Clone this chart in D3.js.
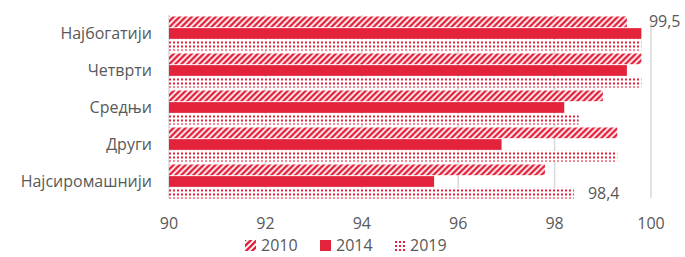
<!DOCTYPE html>
<html>
<head>
<meta charset="utf-8">
<script src="https://cdn.jsdelivr.net/npm/d3@7"></script>
<style>
  body { margin: 0; background: #fff; }
  text { font-family: "Open Sans", sans-serif; fill: #595959; }
</style>
</head>
<body>
<div id="chart"></div>
<script>
// data
const categories = ['Најбогатији', 'Четврти', 'Средњи', 'Други', 'Најсиромашнији'];
const years = ['2010', '2014', '2019'];
const values2010 = [99.5, 99.8, 99.0, 99.3, 97.8];
const values2014 = [99.8, 99.5, 98.2, 96.9, 95.5];
const values2019 = [99.8, 99.8, 98.5, 99.3, 98.4];
const xTicks = [90, 92, 94, 96, 98, 100];
// data labels shown in the chart: [category index, series index]
const labels = [[0, 0], [4, 2]];

const series = [values2010, values2014, values2019];
const width = 685, height = 257;
const red = '#E3223B';

const svg = d3.select('#chart').append('svg')
  .attr('width', width)
  .attr('height', height);

const defs = svg.append('defs');

// wide upward diagonal
const diag = defs.append('pattern')
  .attr('id', 'p2010')
  .attr('patternUnits', 'userSpaceOnUse')
  .attr('width', 6).attr('height', 6);
diag.append('rect').attr('width', 6).attr('height', 6).attr('fill', '#fff');
diag.append('path')
  .attr('d', 'M-1.5,1.5 L1.5,-1.5 M0,6 L6,0 M4.5,7.5 L7.5,4.5')
  .attr('stroke', red).attr('stroke-width', 2.4);

// dotted
const dots = defs.append('pattern')
  .attr('id', 'p2019')
  .attr('patternUnits', 'userSpaceOnUse')
  .attr('width', 4).attr('height', 4);
dots.append('rect').attr('width', 4).attr('height', 4).attr('fill', '#fff');
dots.append('rect').attr('x', 1).attr('y', 1).attr('width', 2).attr('height', 2).attr('fill', red);

const fills = ['url(#p2010)', red, 'url(#p2019)'];

const x = d3.scaleLinear().domain([90, 100]).range([169, 651]);
const y = d3.scaleBand().domain(categories).range([15, 200]).paddingInner(0.08).paddingOuter(0.04);
const ySub = d3.scaleBand().domain(d3.range(3)).range([0, y.bandwidth()]).paddingInner(0.08);

// gridlines
svg.append('g').selectAll('line')
  .data(xTicks)
  .join('line')
  .attr('x1', d => x(d)).attr('x2', d => x(d))
  .attr('y1', d => d === 100 ? 23 : 15).attr('y2', 198)
  .attr('stroke', '#D9D9D9')
  .attr('stroke-width', 1.5);

// tick labels
svg.append('g').selectAll('text')
  .data(xTicks)
  .join('text')
  .attr('x', d => x(d))
  .attr('y', 229)
  .attr('text-anchor', 'middle')
  .style('font-size', '16px')
  .text(d => d);

// category labels
svg.append('g').selectAll('text')
  .data(categories)
  .join('text')
  .attr('x', 152)
  .attr('y', d => y(d) + y.bandwidth() / 2 + 5)
  .attr('text-anchor', 'end')
  .style('font-size', '16px')
  .text(d => d);

// bars
const groups = svg.append('g').selectAll('g')
  .data(categories)
  .join('g')
  .attr('transform', d => `translate(0,${y(d)})`);

groups.selectAll('rect')
  .data((d, i) => series.map((s, j) => ({ s: j, v: s[i] })))
  .join('rect')
  .attr('x', x(90))
  .attr('y', d => ySub(d.s))
  .attr('width', d => x(d.v) - x(90))
  .attr('height', ySub.bandwidth())
  .attr('fill', d => fills[d.s]);

// data labels
const fmt = d3.format('.1f');
const labelDx = [22, 14];
svg.append('g').selectAll('text')
  .data(labels)
  .join('text')
  .attr('x', (d, i) => x(series[d[1]][d[0]]) + labelDx[i])
  .attr('y', (d, i) => i === 0 ? 27 : y(categories[d[0]]) + ySub(d[1]) + ySub.bandwidth() / 2 + 6)
  .style('font-size', '16px')
  .text(d => fmt(series[d[1]][d[0]]).replace('.', ','));

// legend
const legendX = [245, 320, 394];
const legend = svg.append('g').selectAll('g')
  .data(years)
  .join('g')
  .attr('transform', (d, i) => `translate(${legendX[i]},240)`);
legend.append('rect')
  .attr('width', 11).attr('height', 11)
  .attr('fill', (d, i) => fills[i]);
legend.append('text')
  .attr('x', 16).attr('y', 11)
  .style('font-size', '16px')
  .text(d => d);
</script>
</body>
</html>
